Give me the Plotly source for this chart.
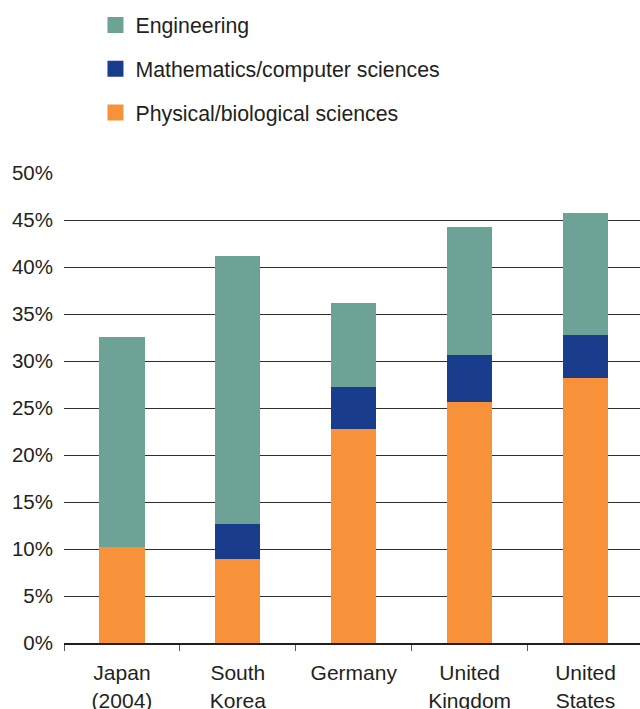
import plotly.graph_objects as go

# Share of first university degrees by field, per country (percent)
countries = ["Japan<br>(2004)", "South<br>Korea", "Germany", "United<br>Kingdom", "United<br>States"]
engineering = [22.4, 28.5, 9.0, 13.6, 13.0]
math_cs = [0.0, 3.8, 4.4, 5.1, 4.6]
phys_bio = [10.2, 8.9, 22.8, 25.6, 28.2]

y_ticks = [0, 5, 10, 15, 20, 25, 30, 35, 40, 45, 50]
y_tick_text = ["0%", "5%", "10%", "15%", "20%", "25%", "30%", "35%", "40%", "45%", "50%"]

C_ENG = "#6DA396"
C_MATH = "#1A3C8C"
C_PHYS = "#F7923A"
TEXT = "#231F20"
FONT = "Liberation Sans, Arial, sans-serif"

L, R, T, B = 63.5, 0, 173.3, 65.7
W, H = 640, 709
PW, PH = W - L - R, H - T - B

fig = go.Figure()

# stacked bars, bottom to top
for name, vals, col in [
    ("Physical/biological sciences", phys_bio, C_PHYS),
    ("Mathematics/computer sciences", math_cs, C_MATH),
    ("Engineering", engineering, C_ENG),
]:
    fig.add_trace(go.Bar(x=countries, y=vals, name=name, marker=dict(color=col, line=dict(width=0)),
                         showlegend=False))

# legend entries with larger square swatches
for i, (name, col) in enumerate([
    ("Engineering", C_ENG),
    ("Mathematics/computer sciences", C_MATH),
    ("Physical/biological sciences", C_PHYS),
]):
    fig.add_trace(go.Scatter(x=[None], y=[None], mode="markers", name=name, legendgroup=f"g{i}",
                             marker=dict(symbol="square", size=16, color=col, line=dict(width=0))))

fig.update_layout(
    width=W, height=H,
    barmode="stack", bargap=0.61,
    plot_bgcolor="white", paper_bgcolor="white",
    margin=dict(l=L, r=R, t=T, b=B, autoexpand=False),
    font=dict(family=FONT, size=20.5, color=TEXT),
    legend=dict(
        x=(95 - L) / PW, xanchor="left",
        y=(PH + T - 5) / PH, yanchor="top",
        traceorder="grouped", tracegroupgap=13,
        font=dict(size=21.3, color=TEXT),
        bgcolor="rgba(0,0,0,0)",
    ),
    xaxis=dict(
        type="category", range=[-0.5, 4.47], automargin=False,
        showline=True, linewidth=2, linecolor=TEXT,
        ticks="outside", tickson="boundaries", ticklen=6, tickwidth=1, tickcolor="#555555",
        showgrid=False, tickangle=0, ticklabelstandoff=10,
        tickfont=dict(size=21, color=TEXT),
    ),
    yaxis=dict(
        range=[0, 50.02], tickmode="array", tickvals=y_ticks, ticktext=y_tick_text,
        automargin=False,
        showgrid=True, gridcolor="#2E2E2E", gridwidth=1,
        zeroline=False, showline=False, ticks="",
        ticklabelstandoff=10, tickfont=dict(size=20.5, color=TEXT),
    ),
)

fig.write_html("out.html")
